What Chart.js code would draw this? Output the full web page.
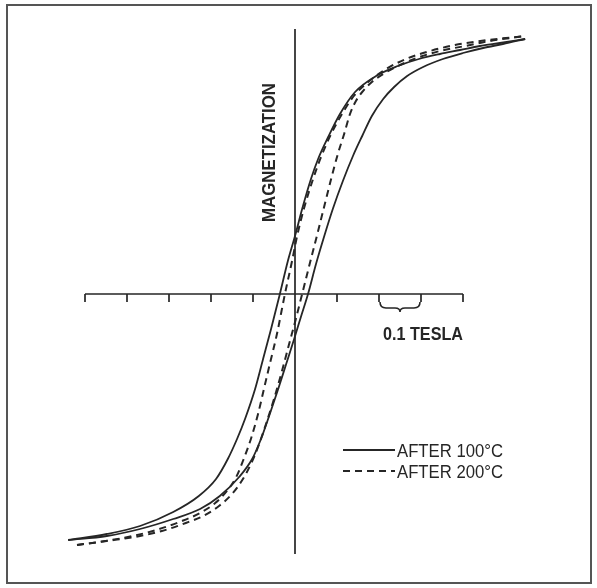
<!DOCTYPE html>
<html><head><meta charset="utf-8">
<script src="https://cdn.jsdelivr.net/npm/chart.js@4"></script>
<style>html,body{margin:0;padding:0;background:#fff;}canvas{display:block;}</style>
</head><body>
<canvas id="c" width="597" height="588"></canvas>
<script>
// Field in tesla, magnetization in % of saturation
const S100_DOWN_T = [-0.540,-0.448,-0.369,-0.290,-0.229,-0.188,-0.160,-0.138,-0.119,-0.095,-0.076,-0.057,-0.036,-0.017,0,0.017,0.038,0.055,0.079,0.107,0.143,0.193,0.245,0.295,0.345,0.393,0.440,0.488,0.548];
const S100_DOWN_M = [-98.4,-96,-92.8,-87.2,-80.8,-74,-66,-58,-50,-38,-26,-14,0,13.2,23.2,34,46,54,62.8,72,80.8,87.2,91.2,94,96,97.6,99.2,100.4,102];
const S100_UP_T = [-0.540,-0.448,-0.369,-0.290,-0.226,-0.179,-0.133,-0.102,-0.081,-0.060,-0.040,-0.021,-0.002,0.014,0.031,0.050,0.069,0.090,0.114,0.138,0.160,0.183,0.210,0.236,0.267,0.305,0.352,0.400,0.448,0.495,0.548];
const S100_UP_M = [-98.4,-96.8,-94,-90,-86,-80.8,-73.2,-66,-58,-48,-38,-28,-18,-9.2,0,12,22.8,34,45.2,55.2,63.2,71.2,78,82.8,87.2,90.8,94,96.4,98.4,100,102];
const D200_DOWN_T = [-0.519,-0.452,-0.386,-0.331,-0.269,-0.226,-0.190,-0.162,-0.140,-0.124,-0.105,-0.088,-0.074,-0.060,-0.043,-0.024,-0.007,0.005,0.021,0.043,0.062,0.086,0.112,0.140,0.174,0.217,0.264,0.305,0.381,0.460,0.548];
const D200_DOWN_M = [-100.4,-98.8,-96.8,-94.4,-90.8,-87.6,-83.6,-78.8,-73.2,-66.8,-58,-48,-38,-28,-16,0,13.2,23.2,34,46,54.8,64,72,79.2,84.8,90,94,96.4,99.6,101.6,103.2];
const D200_UP_T = [-0.519,-0.448,-0.369,-0.317,-0.260,-0.219,-0.181,-0.150,-0.124,-0.105,-0.088,-0.069,-0.050,-0.031,-0.014,0.002,0.017,0.038,0.055,0.071,0.086,0.102,0.117,0.131,0.145,0.160,0.183,0.214,0.250,0.290,0.345,0.405,0.464,0.548];
const D200_UP_M = [-100.4,-98.8,-96.8,-94.8,-91.6,-88.8,-84.8,-80,-74,-68,-61.2,-52,-42,-30.8,-20,-10,0,14,25.2,36,46,56,64,72,77.2,80.8,84.8,88.4,91.6,94.4,97.2,99.2,101.2,103.2];

const AXIS_TICKS_T = [-0.5,-0.4,-0.3,-0.2,-0.1,0,0.1,0.2,0.3,0.4];
const AXIS_M_RANGE = [-104, 106];
const BRACE_T = [0.2, 0.3];
const BRACE_LABEL = "0.1 TESLA";
const Y_LABEL = "MAGNETIZATION";
const SERIES_LABELS = ["AFTER 100°C", "AFTER 200°C"];

const INK = '#262626';
const pts = (xs, ys) => xs.map((v, i) => ({x: v, y: ys[i]}));

function condensedText(ctx, str, font, targetW, x, y, rot) {
  ctx.save();
  ctx.font = font;
  const w = ctx.measureText(str).width;
  ctx.translate(x, y);
  if (rot) ctx.rotate(rot);
  ctx.scale(targetW / w, 1);
  ctx.textAlign = 'left';
  ctx.textBaseline = 'alphabetic';
  ctx.fillStyle = INK;
  ctx.fillText(str, 0, 0);
  ctx.restore();
}

const overlay = {
  id: 'overlay',
  beforeDraw(chart) {
    const ctx = chart.ctx;
    ctx.save(); ctx.fillStyle = '#fff'; ctx.fillRect(0, 0, chart.width, chart.height);
    ctx.strokeStyle = '#555'; ctx.lineWidth = 2; ctx.strokeRect(7, 5, 584, 578);
    ctx.restore();
  },
  beforeDatasetsDraw(chart) {
    const {ctx, scales: {x, y}} = chart;
    const x0 = x.getPixelForValue(0), y0 = y.getPixelForValue(0);
    ctx.save();
    ctx.strokeStyle = INK; ctx.lineWidth = 1.7;
    ctx.beginPath();
    ctx.moveTo(x.getPixelForValue(AXIS_TICKS_T[0]), y0);
    ctx.lineTo(x.getPixelForValue(AXIS_TICKS_T[AXIS_TICKS_T.length - 1]), y0);
    AXIS_TICKS_T.forEach(t => { if (t !== 0) { const p = x.getPixelForValue(t); ctx.moveTo(p, y0); ctx.lineTo(p, y0 + 8); } });
    ctx.moveTo(x0, y.getPixelForValue(AXIS_M_RANGE[1]));
    ctx.lineTo(x0, y.getPixelForValue(AXIS_M_RANGE[0]));
    ctx.stroke();
    const a = x.getPixelForValue(BRACE_T[0]) + 1, b = x.getPixelForValue(BRACE_T[1]) - 1;
    const m = (a + b) / 2, top = y0 + 8;
    ctx.lineWidth = 1.6;
    ctx.beginPath();
    ctx.moveTo(a, top);
    ctx.quadraticCurveTo(a, top + 6, a + 6, top + 6);
    ctx.lineTo(m - 5, top + 6);
    ctx.quadraticCurveTo(m, top + 6, m, top + 10);
    ctx.quadraticCurveTo(m, top + 6, m + 5, top + 6);
    ctx.lineTo(b - 6, top + 6);
    ctx.quadraticCurveTo(b, top + 6, b, top);
    ctx.stroke();
    ctx.restore();
    condensedText(ctx, BRACE_LABEL, 'bold 19px "Liberation Sans", Arial, sans-serif', 80, a + 3, y0 + 46, 0);
    condensedText(ctx, Y_LABEL, 'bold 19px "Liberation Sans", Arial, sans-serif', 139, x0 - 20, y0 - 72, -Math.PI / 2);
  },
  afterDatasetsDraw(chart) {
    const ctx = chart.ctx;
    const entries = [chart.data.datasets[0], chart.data.datasets[2]];
    const rows = [450, 471];
    entries.forEach((ds, i) => {
      ctx.save();
      ctx.strokeStyle = ds.borderColor; ctx.lineWidth = ds.borderWidth;
      ctx.setLineDash(ds.borderDash || []);
      ctx.beginPath(); ctx.moveTo(343, rows[i]); ctx.lineTo(395, rows[i]); ctx.stroke();
      ctx.restore();
      condensedText(ctx, SERIES_LABELS[i], '18px "Liberation Sans", Arial, sans-serif', 106, 397, rows[i] + 7, 0);
    });
  }
};

const solid = {borderColor: INK, borderWidth: 1.8, pointRadius: 0, fill: false, cubicInterpolationMode: 'monotone'};
const dashed = {borderColor: INK, borderWidth: 2, borderDash: [7, 5], pointRadius: 0, fill: false, cubicInterpolationMode: 'monotone'};

new Chart(document.getElementById('c'), {
  type: 'line',
  data: {datasets: [
    Object.assign({label: SERIES_LABELS[0], data: pts(S100_DOWN_T, S100_DOWN_M)}, solid),
    Object.assign({label: SERIES_LABELS[0], data: pts(S100_UP_T, S100_UP_M)}, solid),
    Object.assign({label: SERIES_LABELS[1], data: pts(D200_DOWN_T, D200_DOWN_M)}, dashed),
    Object.assign({label: SERIES_LABELS[1], data: pts(D200_UP_T, D200_UP_M)}, dashed)
  ]},
  options: {
    responsive: false, animation: false,
    layout: {padding: 0},
    plugins: {legend: {display: false}, tooltip: {enabled: false}},
    scales: {
      x: {type: 'linear', display: false, min: -295 / 420, max: 302 / 420},
      y: {type: 'linear', display: false, min: -117.6, max: 117.6}
    }
  },
  plugins: [overlay]
});
</script>
</body></html>
